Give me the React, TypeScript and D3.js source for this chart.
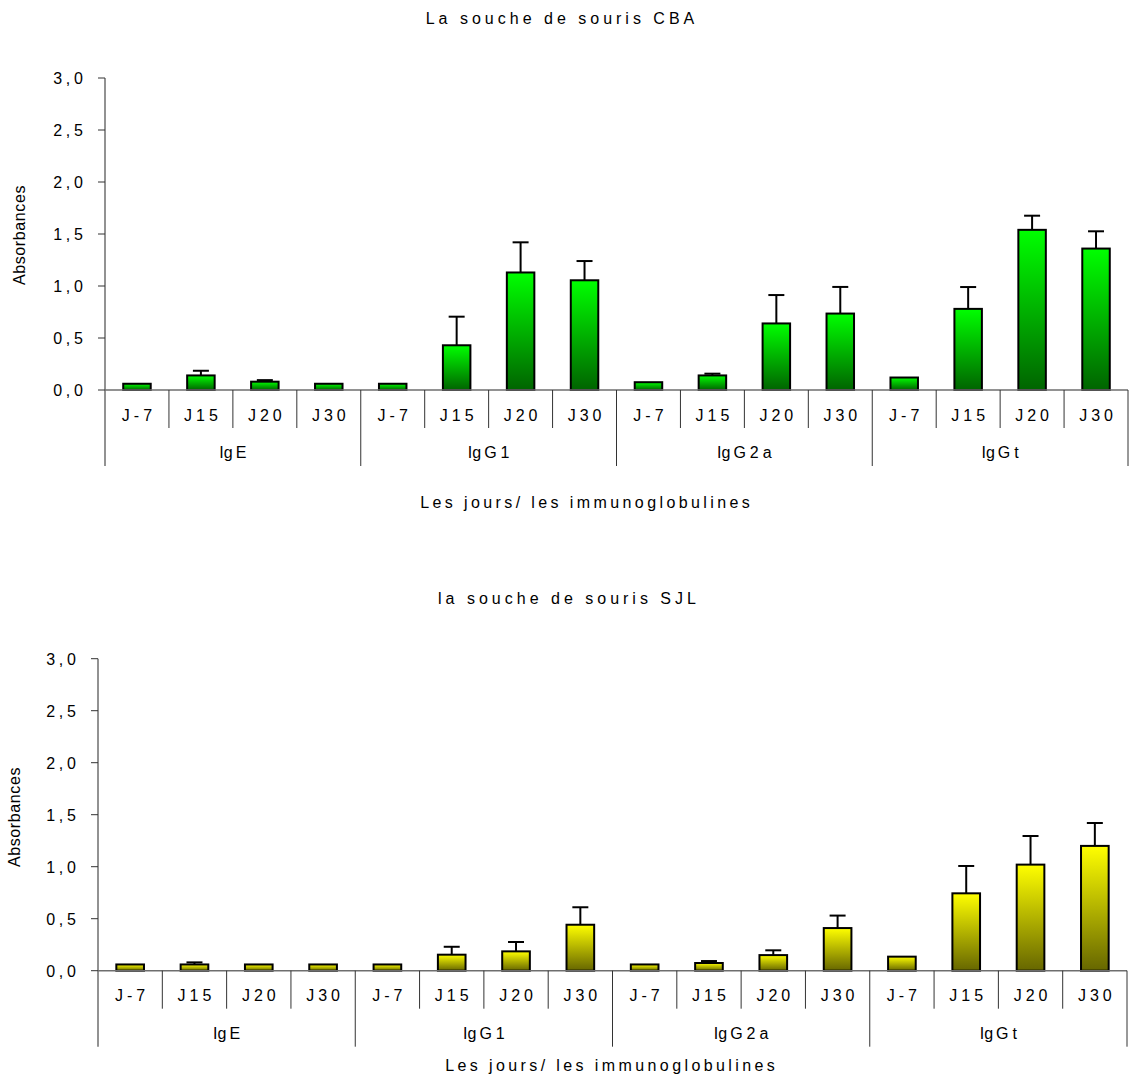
import React from "react";
import * as d3 from "d3";

const days = ["J-7", "J15", "J20", "J30"];
const immunoglobulins = ["IgE", "IgG1", "IgG2a", "IgGt"];
const yTicks = [0, 0.5, 1, 1.5, 2, 2.5, 3];

const cbaTitle = "La souche de souris CBA";
const cbaMeans = [0.06, 0.14, 0.08, 0.06, 0.06, 0.43, 1.13, 1.055, 0.075, 0.14, 0.64, 0.735, 0.12, 0.78, 1.54, 1.36];
const cbaErrors = [0, 0.045, 0.015, 0, 0, 0.275, 0.29, 0.185, 0, 0.017, 0.273, 0.256, 0, 0.21, 0.136, 0.166];

const sjlTitle = "la souche de souris SJL";
const sjlMeans = [0.06, 0.06, 0.06, 0.06, 0.06, 0.154, 0.186, 0.442, 0.06, 0.074, 0.15, 0.41, 0.135, 0.744, 1.02, 1.2];
const sjlErrors = [0, 0.02, 0, 0, 0, 0.076, 0.09, 0.168, 0, 0.019, 0.046, 0.12, 0, 0.263, 0.275, 0.22];

const yLabel = "Absorbances";
const xLabel = "Les jours/ les immunoglobulines";

const FONT = "'Liberation Sans', Arial, sans-serif";
const FS = 16;

type PanelProps = {
  id: string;
  title: string;
  means: number[];
  errors: number[];
  topColor: string;
  bottomColor: string;
  x0: number;
  x1: number;
  baseY: number;
  topY: number;
  titleX: number;
  titleY: number;
  yLabX: number;
  yLabY: number;
  xLabX: number;
  xLabY: number;
};

function Spaced({ x, y, ls, size, anchor, children }: any) {
  const dx = anchor === "middle" ? ls / 2 : anchor === "end" ? ls : 0;
  return (
    <text x={x + dx} y={y} fontSize={size} letterSpacing={ls} textAnchor={anchor} fontFamily={FONT} fill="#000">
      {children}
    </text>
  );
}

function GroupLabel({ x, y, name }: { x: number; y: number; name: string }) {
  const head = name.slice(0, 2);
  const rest = name.slice(2);
  return (
    <text x={x + 2} y={y} fontSize={FS} textAnchor="middle" fontFamily={FONT} fill="#000">
      <tspan>{head}</tspan>
      <tspan dx={3} letterSpacing={4}>{rest}</tspan>
    </text>
  );
}

function Panel(p: PanelProps) {
  const cats = immunoglobulins.flatMap((g) => days.map((d) => `${g}|${d}`));
  const x = d3.scaleBand<string>().domain(cats).range([p.x0, p.x1]).padding(0);
  const y = d3.scaleLinear().domain([0, 3]).range([p.baseY, p.topY]);
  const bw = x.bandwidth() * 0.43;
  const groupW = x.bandwidth() * days.length;
  const catTickEnd = p.baseY + 38;
  const groupTickEnd = p.baseY + 76;
  return (
    <g>
      <defs>
        <linearGradient id={`grad-${p.id}`} x1="0" y1="0" x2="0" y2="1">
          <stop offset="0%" stopColor={p.topColor} />
          <stop offset="100%" stopColor={p.bottomColor} />
        </linearGradient>
      </defs>
      <Spaced x={p.titleX} y={p.titleY} ls={4.0} size={FS} anchor="middle">{p.title}</Spaced>
      <text
        transform={`translate(${p.yLabX},${p.yLabY}) rotate(-90)`}
        fontSize={FS}
        fontFamily={FONT}
        textAnchor="middle"
        letterSpacing={0.6}
      >
        {yLabel}
      </text>
      {/* y axis */}
      <line x1={p.x0} x2={p.x0} y1={y(3)} y2={groupTickEnd} stroke="#6e6e6e" strokeWidth={1.5} />
      {yTicks.map((t) => (
        <g key={t}>
          <line x1={p.x0 - 7} x2={p.x0} y1={y(t)} y2={y(t)} stroke="#333" strokeWidth={1} />
          <Spaced x={p.x0 - 22} y={y(t) + 6} ls={3.8} size={FS} anchor="end">
            {d3.format(".1f")(t).replace(".", ",")}
          </Spaced>
        </g>
      ))}
      {/* bars */}
      {cats.map((c, i) => {
        const cx = (x(c) as number) + x.bandwidth() / 2;
        const top = y(p.means[i]);
        const errTop = y(p.means[i] + p.errors[i]);
        return (
          <g key={c}>
            <rect
              x={cx - bw / 2}
              y={top}
              width={bw}
              height={p.baseY - top}
              fill={`url(#grad-${p.id})`}
              stroke="#000"
              strokeWidth={2}
            />
            {p.errors[i] > 0 && (
              <g stroke="#000" strokeWidth={2}>
                <line x1={cx} x2={cx} y1={top} y2={errTop} />
                <line x1={cx - 8} x2={cx + 8} y1={errTop} y2={errTop} />
              </g>
            )}
          </g>
        );
      })}
      {/* baseline */}
      <line x1={p.x0} x2={p.x1} y1={p.baseY} y2={p.baseY} stroke="#6e6e6e" strokeWidth={1.5} />
      {/* category ticks and labels */}
      {cats.map((c, i) => {
        const left = x(c) as number;
        const isGroup = i % days.length === 0;
        return (
          <g key={`t-${c}`}>
            {i > 0 && (
              <line x1={left} x2={left} y1={p.baseY} y2={isGroup ? groupTickEnd : catTickEnd} stroke="#333" strokeWidth={1} />
            )}
            <Spaced x={left + x.bandwidth() / 2} y={p.baseY + 30.5} ls={4} size={FS} anchor="middle">
              {days[i % days.length]}
            </Spaced>
          </g>
        );
      })}
      <line x1={p.x1} x2={p.x1} y1={p.baseY} y2={groupTickEnd} stroke="#333" strokeWidth={1} />
      {immunoglobulins.map((g, gi) => (
        <GroupLabel key={g} x={p.x0 + groupW * gi + groupW / 2} y={p.baseY + 68} name={g} />
      ))}
      <Spaced x={p.xLabX} y={p.xLabY} ls={3.4} size={FS} anchor="middle">{xLabel}</Spaced>
    </g>
  );
}

export default function App() {
  return (
    <svg
      width={1129}
      height={1079}
      style={{ position: "absolute", left: 0, top: 0, background: "#fff" }}
    >
      <rect width={1129} height={1079} fill="#fff" />
      <Panel
        id="cba"
        title={cbaTitle}
        means={cbaMeans}
        errors={cbaErrors}
        topColor="#00ff00"
        bottomColor="#006400"
        x0={105}
        x1={1128}
        baseY={390}
        topY={78}
        titleX={560}
        titleY={23.5}
        yLabX={25}
        yLabY={235}
        xLabX={585}
        xLabY={507.5}
      />
      <Panel
        id="sjl"
        title={sjlTitle}
        means={sjlMeans}
        errors={sjlErrors}
        topColor="#ffff00"
        bottomColor="#666600"
        x0={98}
        x1={1127}
        baseY={970.7}
        topY={658.7}
        titleX={567}
        titleY={604}
        yLabX={20}
        yLabY={817}
        xLabX={610}
        xLabY={1071}
      />
    </svg>
  );
}
